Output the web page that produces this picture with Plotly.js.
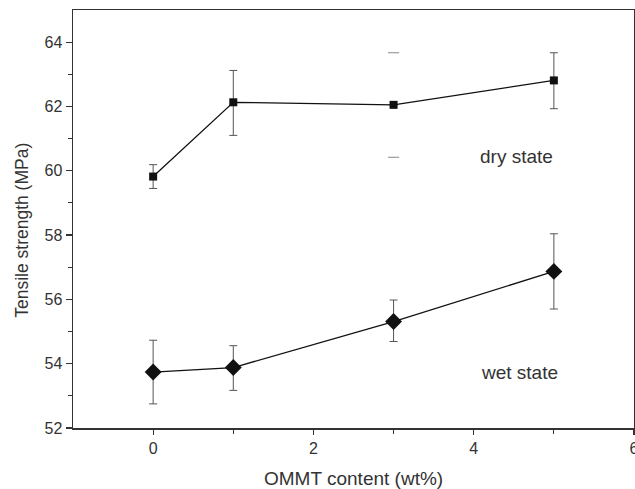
<!DOCTYPE html>
<html>
<head>
<meta charset="utf-8">
<script src="https://cdn.plot.ly/plotly-3.0.1.min.js"></script>
<style>html,body{margin:0;padding:0;background:#fff;}#chart{width:635px;height:489px;}</style>
</head>
<body>
<div id="chart"></div>
<script>
const ommt = [0, 1, 3, 5];
const dryStrength = [59.82, 62.13, 62.05, 62.81];
const dryErrPlus = [0.37, 0.99, 1.62, 0.86];
const dryErrMinus = [0.37, 1.03, 1.63, 0.88];
const wetStrength = [53.74, 53.88, 55.31, 56.87];
const wetErrPlus = [0.99, 0.68, 0.67, 1.17];
const wetErrMinus = [0.99, 0.71, 0.62, 1.17];
const xTicks = [0, 2, 4, 6];
const yTicks = [52, 54, 56, 58, 60, 62, 64];
const xTitle = 'OMMT content (wt%)';
const yTitle = 'Tensile strength (MPa)';
// in the reference the bar of the dry point at x = 3 shows only its caps
const capsOnlyIndex = 2;

const dryPlusDrawn = dryErrPlus.map((v, i) => i === capsOnlyIndex ? 0 : v);
const dryMinusDrawn = dryErrMinus.map((v, i) => i === capsOnlyIndex ? 0 : v);
const capX = [ommt[capsOnlyIndex], ommt[capsOnlyIndex]];
const capY = [dryStrength[capsOnlyIndex] + dryErrPlus[capsOnlyIndex],
              dryStrength[capsOnlyIndex] - dryErrMinus[capsOnlyIndex]];

const traces = [
  {
    x: capX, y: capY, type: 'scatter', mode: 'markers', hoverinfo: 'skip',
    marker: {symbol: 'line-ew', size: 8, line: {color: '#888', width: 1}}
  },
  {
    x: ommt, y: dryStrength, type: 'scatter', mode: 'lines+markers', name: 'dry state',
    line: {color: '#111', width: 1.3},
    marker: {symbol: 'square', size: 8, color: '#111'},
    error_y: {type: 'data', symmetric: false, array: dryPlusDrawn, arrayminus: dryMinusDrawn,
      color: '#555', thickness: 1, width: 4}
  },
  {
    x: ommt, y: wetStrength, type: 'scatter', mode: 'lines+markers', name: 'wet state',
    line: {color: '#111', width: 1.3},
    marker: {symbol: 'diamond', size: 13, color: '#111'},
    error_y: {type: 'data', symmetric: false, array: wetErrPlus, arrayminus: wetErrMinus,
      color: '#555', thickness: 1, width: 4}
  }
];

const layout = {
  width: 635, height: 489,
  margin: {l: 73, r: 1, t: 10, b: 61},
  paper_bgcolor: '#fff', plot_bgcolor: '#fff',
  showlegend: false,
  font: {family: 'Liberation Sans, Arial, sans-serif', color: '#333', size: 16},
  xaxis: {
    range: [-1, 6], tickvals: xTicks, ticktext: xTicks.map(String),
    ticks: 'outside', ticklen: 5, tickwidth: 1.2, tickcolor: '#333',
    ticklabeloverflow: 'allow',
    minor: {tickvals: [1, 3, 5], ticks: 'outside', ticklen: 4, tickwidth: 1, tickcolor: '#333'},
    showline: true, linecolor: '#333', linewidth: 1.5, mirror: true,
    showgrid: false, zeroline: false,
    tickfont: {size: 16, color: '#333'}
  },
  yaxis: {
    range: [52, 65], tickvals: yTicks, ticktext: yTicks.map(String),
    ticks: 'outside', ticklen: 6, tickwidth: 1.2, tickcolor: '#333',
    minor: {tickvals: [53, 55, 57, 59, 61, 63], ticks: 'outside', ticklen: 4, tickwidth: 1, tickcolor: '#333'},
    showline: true, linecolor: '#333', linewidth: 1.5, mirror: true,
    showgrid: false, zeroline: false,
    tickfont: {size: 16, color: '#333'}
  },
  annotations: [
    {x: 0.5, y: -0.122, xref: 'paper', yref: 'paper', text: xTitle, showarrow: false,
      xanchor: 'center', yanchor: 'middle', font: {size: 19, color: '#333'}},
    {x: -0.091, y: 0.474, xref: 'paper', yref: 'paper', text: yTitle, showarrow: false,
      textangle: -90, xanchor: 'center', yanchor: 'middle', font: {size: 17.5, color: '#333'}},
    {x: 4.53, y: 60.43, xref: 'x', yref: 'y', text: 'dry state', showarrow: false,
      font: {size: 19, color: '#333'}},
    {x: 4.57, y: 53.74, xref: 'x', yref: 'y', text: 'wet state', showarrow: false,
      font: {size: 19, color: '#333'}}
  ]
};

Plotly.newPlot('chart', traces, layout, {displayModeBar: false, staticPlot: true});
</script>
</body>
</html>
